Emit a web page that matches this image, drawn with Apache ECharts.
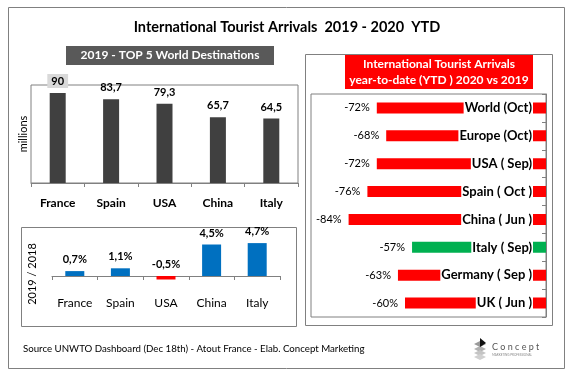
<!DOCTYPE html>
<html>
<head>
<meta charset="utf-8">
<script src="https://cdn.jsdelivr.net/npm/echarts@6/dist/echarts.min.js"></script>
<style>
html,body{margin:0;padding:0;background:#fff;}
#c{width:574px;height:382px;}
</style>
</head>
<body>
<div id="c"></div>
<script>
// ---- data ----
const topCategories = ['France', 'Spain', 'USA', 'China', 'Italy'];
const arrivals2019 = [90, 83.7, 79.3, 65.7, 64.5];
const growthCategories = ['France', 'Spain', 'USA', 'China', 'Italy'];
const growth2019vs2018 = [0.7, 1.1, -0.5, 4.5, 4.7];
const ytdCategories = ['World (Oct)', 'Europe (Oct)', 'USA ( Sep)', 'Spain ( Oct )', 'China ( Jun )', 'Italy ( Sep)', 'Germany ( Sep )', 'UK ( Jun )'];
const ytdChange = [-72, -68, -72, -76, -84, -57, -63, -60];
const highlightYtd = 'Italy ( Sep)';

const FONT = 'Lato, "Open Sans", sans-serif';
const GREY = '#808080';
const comma = v => String(v).replace('.', ',');

const chart = echarts.init(document.getElementById('c'), null, {renderer: 'canvas'});

const topData = arrivals2019.map((v, i) => i === 0
  ? {value: v, label: {backgroundColor: '#d9d9d9', padding: [2, 4, 1, 4], distance: 5}}
  : v);
const growthData = growth2019vs2018.map(v => ({value: v, itemStyle: {color: v < 0 ? '#ff0000' : '#0070c0'}}));
const ytdData = ytdChange.map((v, i) => ({value: v, itemStyle: {color: ytdCategories[i] === highlightYtd ? '#00b050' : '#ff0000'}}));

const option = {
  backgroundColor: '#ffffff',
  animation: false,
  textStyle: {fontFamily: FONT},
  graphic: [
    // outer frame
    {type: 'rect', shape: {x: 8.5, y: 7.5, width: 556, height: 361}, style: {fill: 'none', stroke: GREY, lineWidth: 1}, z: -10},
    // main title
    {type: 'text', left: 'center', top: 20, style: {text: 'International Tourist Arrivals  2019 - 2020  YTD', font: 'bold 14.5px ' + FONT, fill: '#000'}},
    // left dark header
    {type: 'rect', shape: {x: 66, y: 46, width: 208, height: 19}, style: {fill: '#595959'}},
    {type: 'text', x: 170, y: 55.5, style: {text: '2019 - TOP 5 World Destinations', font: 'bold 12px ' + FONT, fill: '#fff', align: 'center', verticalAlign: 'middle'}},
    // bottom-left box
    {type: 'rect', shape: {x: 21.5, y: 227.5, width: 275, height: 99}, style: {fill: 'none', stroke: GREY, lineWidth: 1}, z: -5},
    {type: 'text', x: 32, y: 274, rotation: Math.PI / 2, style: {text: '2019 / 2018', font: '11px ' + FONT, fill: '#000', align: 'center', verticalAlign: 'middle'}},
    {type: 'text', x: 23, y: 134, rotation: Math.PI / 2, style: {text: 'millions', font: '11px ' + FONT, fill: '#000', align: 'center', verticalAlign: 'middle'}},
    // right box
    {type: 'rect', shape: {x: 305.5, y: 54.5, width: 247, height: 271}, style: {fill: 'none', stroke: GREY, lineWidth: 1}, z: -5},
    {type: 'rect', shape: {x: 345, y: 55, width: 188, height: 34}, style: {fill: '#ff0000'}},
    {type: 'text', x: 439, y: 64, style: {text: 'International Tourist Arrivals', font: 'bold 12px ' + FONT, fill: '#fff', align: 'center', verticalAlign: 'middle'}},
    {type: 'text', x: 439, y: 80, style: {text: 'year-to-date (YTD ) 2020 vs 2019', font: 'bold 12px ' + FONT, fill: '#fff', align: 'center', verticalAlign: 'middle'}},
    // footer
    {type: 'text', x: 23, y: 349, style: {text: 'Source UNWTO Dashboard (Dec 18th) - Atout France - Elab. Concept Marketing', font: '9.7px ' + FONT, fill: '#000', verticalAlign: 'middle'}},
    // logo
    {type: 'polygon', shape: {points: [[474, 349], [480, 346], [486, 349], [480, 352]]}, style: {fill: '#b0b0b0'}},
    {type: 'polygon', shape: {points: [[474, 353], [480, 350], [486, 353], [480, 356]]}, style: {fill: '#c4c4c4'}},
    {type: 'polygon', shape: {points: [[474, 357], [480, 354], [486, 357], [480, 360]]}, style: {fill: '#d0d0d0'}},
    {type: 'polygon', shape: {points: [[474, 344], [480, 341], [486, 344], [480, 347]]}, style: {fill: '#9a9a9a'}},
    {type: 'polygon', shape: {points: [[480, 338], [486, 343], [480, 347]]}, style: {fill: '#111'}},
    {type: 'text', x: 492, y: 347, style: {text: 'C o n c e p t', font: '9px ' + FONT, fill: '#555', verticalAlign: 'middle'}},
    {type: 'text', x: 492, y: 355, style: {text: 'MARKETING PROFESSIONAL', font: '3px ' + FONT, fill: '#888', verticalAlign: 'middle'}}
  ],
  grid: [
    {left: 31, top: 85, width: 267, height: 98, show: true, borderColor: GREY, borderWidth: 1, backgroundColor: 'transparent'},
    {left: 52, top: 241, width: 228, height: 42},
    {left: 311, top: 94, width: 235, height: 223, show: true, borderColor: GREY, borderWidth: 1, backgroundColor: 'transparent'}
  ],
  xAxis: [
    {gridIndex: 0, type: 'category', data: topCategories,
      axisLine: {lineStyle: {color: GREY}}, axisTick: {show: true, length: 4, lineStyle: {color: GREY}},
      axisLabel: {interval: 0, color: '#000', fontWeight: 'bold', fontSize: 12, margin: 14, fontFamily: FONT}},
    {gridIndex: 1, type: 'category', data: growthCategories,
      axisLine: {lineStyle: {color: GREY}}, axisTick: {show: true, length: 4, lineStyle: {color: GREY}},
      axisLabel: {interval: 0, color: '#000', fontSize: 12, margin: 14, fontFamily: FONT}},
    {gridIndex: 2, type: 'value', min: -100, max: 0, show: false}
  ],
  yAxis: [
    {gridIndex: 0, type: 'value', min: 0, max: 98, show: false},
    {gridIndex: 1, type: 'value', min: -1, max: 5, show: false},
    {gridIndex: 2, type: 'category', data: ytdCategories, inverse: true, position: 'right', z: 5,
      axisLine: {lineStyle: {color: GREY}}, axisTick: {show: true, inside: true, length: 4, lineStyle: {color: GREY}},
      splitLine: {show: false},
      axisLabel: {interval: 0, inside: true, margin: 13, color: '#000', fontWeight: 'bold', fontSize: 13, fontFamily: FONT,
        backgroundColor: '#fff', padding: [0, 1, 0, 1]}}
  ],
  series: [
    {type: 'bar', xAxisIndex: 0, yAxisIndex: 0, data: topData, barWidth: 16,
      itemStyle: {color: '#404040'},
      label: {show: true, position: 'top', distance: 6, color: '#000', fontWeight: 'bold', fontSize: 11, fontFamily: FONT,
        formatter: p => comma(p.value)}},
    {type: 'bar', xAxisIndex: 1, yAxisIndex: 1, data: growthData, barWidth: 19,
      label: {show: true, position: 'top', distance: 6, color: '#000', fontWeight: 'bold', fontSize: 11, fontFamily: FONT,
        formatter: p => comma(p.value) + '%'}},
    {type: 'bar', xAxisIndex: 2, yAxisIndex: 2, data: ytdData, barWidth: 11,
      label: {show: true, position: 'left', distance: 7, color: '#000', fontSize: 11, fontFamily: FONT,
        formatter: p => p.value + '%'}}
  ]
};
chart.setOption(option);
</script>
</body>
</html>
